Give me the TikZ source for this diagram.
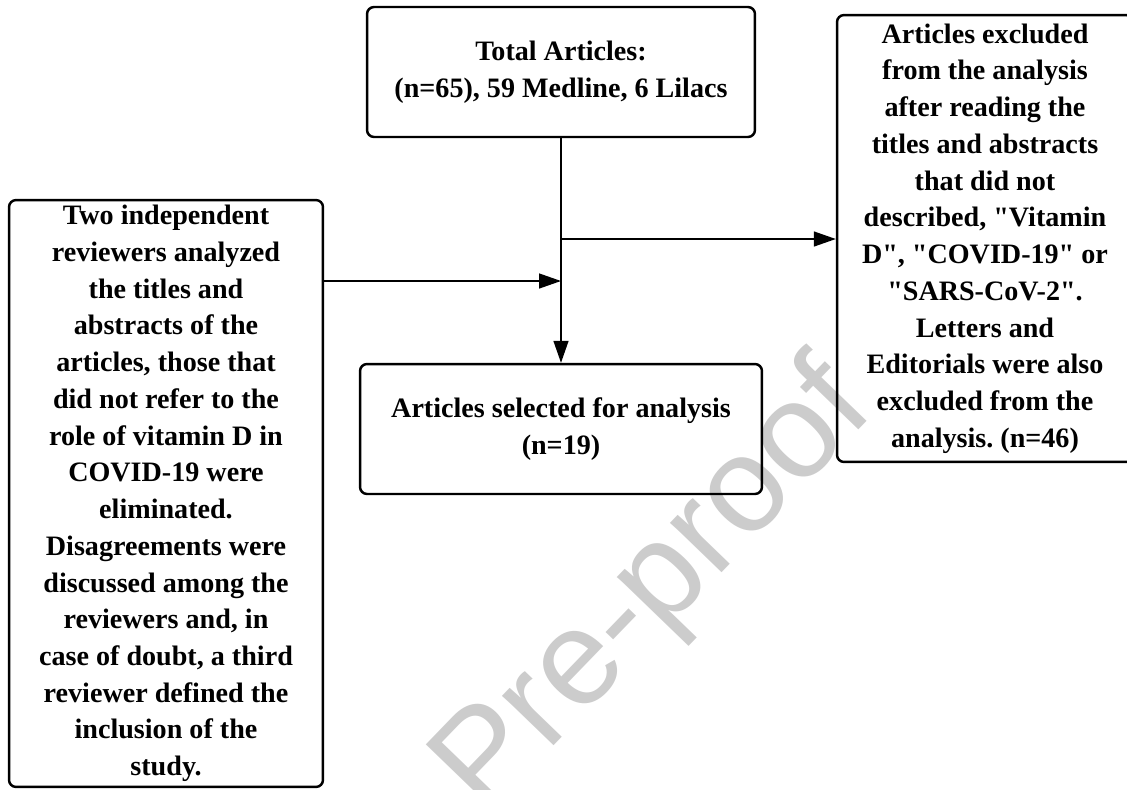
\documentclass[tikz,border=0pt]{standalone}
\usepackage{fontspec}
\newfontfamily\boxfont{Liberation Serif}
\setsansfont{Liberation Sans}
\usetikzlibrary{arrows.meta}

\begin{document}
\begin{tikzpicture}[x=0.02cm,y=-0.02cm,>={Triangle[length=0.44cm,width=0.3cm]},
  box/.style={draw,line width=1.4pt,rounded corners=0.14cm,align=center,inner sep=0pt,
    font=\fontsize{16}{20.9}\boxfont\bfseries\frenchspacing},
  link/.style={->,line width=0.8pt}]
\useasboundingbox (0,0) rectangle (1127,789);

% watermark
\node[rotate=46,text=black!20,font=\fontsize{77}{77}\selectfont\sffamily] (mark) at (656,590) {Pre-proof};

\node[box,minimum width=7.76cm,minimum height=2.6cm] (total) at (561,72)
  {Total Articles:\\(n=65), 59 Medline, 6 Lilacs};
\node[box,minimum width=8.04cm,minimum height=2.6cm] (sel) at (561,429)
  {Articles selected for analysis\\(n=19)};
\node[box,minimum width=6.28cm,minimum height=11.74cm] (rev) at (166,493.5)
  {Two independent\\reviewers analyzed\\the titles and\\abstracts of the\\articles, those that\\did not refer to the\\role of vitamin D in\\COVID-19 were\\eliminated.\\Disagreements were\\discussed among the\\reviewers and, in\\case of doubt, a third\\reviewer defined the\\inclusion of the\\study.};
\node[box,minimum width=5.92cm,minimum height=8.94cm] (exc) at (985,238.5)
  {Articles excluded\\from the analysis\\after reading the\\titles and abstracts\\that did not\\described, "Vitamin\\D", "COVID-19" or\\"SARS-CoV-2".\\Letters and\\Editorials were also\\excluded from the\\analysis. (n=46)};

\coordinate (up) at (561,239);
\coordinate (low) at (561,281);

\draw[link] (total) -- (sel);
\draw[link] (up) -- (up -| exc.west);
\draw[link] (rev.east |- low) -- (low);

\end{tikzpicture}
\end{document}
